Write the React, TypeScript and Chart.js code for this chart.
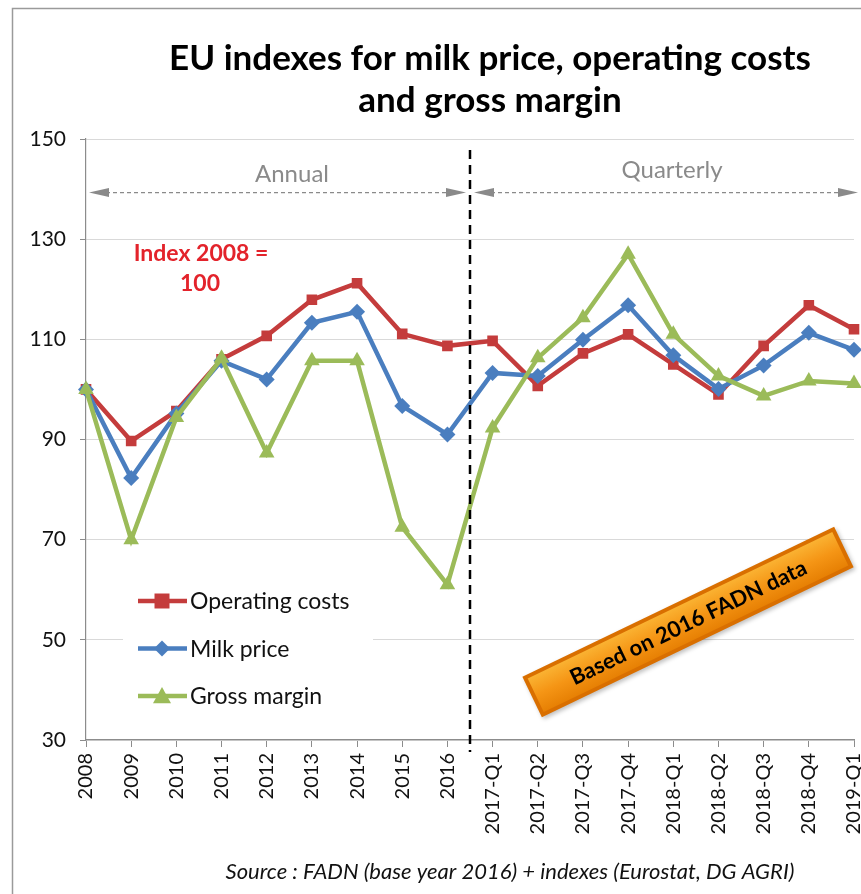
import React, { useEffect, useRef } from "react";
import { Chart, registerables } from "chart.js";

Chart.register(...registerables);

const categories = [
  "2008", "2009", "2010", "2011", "2012", "2013", "2014", "2015", "2016",
  "2017-Q1", "2017-Q2", "2017-Q3", "2017-Q4",
  "2018-Q1", "2018-Q2", "2018-Q3", "2018-Q4", "2019-Q1",
];
const operatingCosts = [100, 89.7, 95.7, 106, 110.7, 117.9, 121.2, 111.1, 108.7, 109.7, 100.7, 107.2, 111, 105, 99, 108.7, 116.8, 112];
const milkPrice = [100, 82.3, 95.2, 105.7, 102, 113.3, 115.5, 96.7, 91, 103.3, 102.7, 109.9, 116.8, 106.8, 100.1, 104.8, 111.3, 107.9];
const grossMargin = [100, 70, 94.4, 106.2, 87.3, 105.7, 105.7, 72.5, 61, 92.3, 106.3, 114.3, 127, 111, 102.7, 98.7, 101.7, 101.2];
const seriesNames = ["Operating costs", "Milk price", "Gross margin"];
const yMin = 30;
const yMax = 150;
const yStep = 20;
const titleLines = ["EU indexes for milk price, operating costs", "and gross margin"];
const sourceText = "Source : FADN (base year 2016) + indexes (Eurostat, DG AGRI)";
const periodLabels = ["Annual", "Quarterly"];
const indexLabel = ["Index 2008 =", "100"];
const boxText = "Based on 2016 FADN data";

const RED = "#c43c3c";
const BLUE = "#4a7ebf";
const GREEN = "#9bbb59";
const FONT = "Lato, 'Open Sans', sans-serif";

function drawMarker(ctx: CanvasRenderingContext2D, style: string, x: number, y: number, r: number, color: string) {
  ctx.save();
  ctx.fillStyle = color;
  ctx.beginPath();
  if (style === "rect") {
    ctx.rect(x - r, y - r, 2 * r, 2 * r);
  } else if (style === "rectRot") {
    ctx.moveTo(x, y - r);
    ctx.lineTo(x + r, y);
    ctx.lineTo(x, y + r);
    ctx.lineTo(x - r, y);
    ctx.closePath();
  } else {
    ctx.moveTo(x, y - r);
    ctx.lineTo(x + r, y + r * 0.8);
    ctx.lineTo(x - r, y + r * 0.8);
    ctx.closePath();
  }
  ctx.fill();
  ctx.restore();
}

function arrowHead(ctx: CanvasRenderingContext2D, x: number, y: number, dir: number) {
  ctx.beginPath();
  ctx.moveTo(x, y);
  ctx.lineTo(x - dir * 20, y - 4.5);
  ctx.lineTo(x - dir * 20, y + 4.5);
  ctx.closePath();
  ctx.fill();
}

const annotations = {
  id: "annotations",
  afterDatasetsDraw(chart: any) {
    const ctx: CanvasRenderingContext2D = chart.ctx;
    const xs = chart.scales.x;
    const ys = chart.scales.y;
    const area = chart.chartArea;
    const splitX = (xs.getPixelForValue(8) + xs.getPixelForValue(9)) / 2;

    // vertical dashed separator
    ctx.save();
    ctx.strokeStyle = "#000";
    ctx.lineWidth = 2.5;
    ctx.setLineDash([9, 6]);
    ctx.beginPath();
    ctx.moveTo(splitX, area.top + 11);
    ctx.lineTo(splitX, area.bottom + 12);
    ctx.stroke();
    ctx.restore();

    // period arrows
    const ay = ys.getPixelForValue(139.3);
    ctx.save();
    ctx.strokeStyle = "#8a8a8a";
    ctx.fillStyle = "#8a8a8a";
    ctx.lineWidth = 1.2;
    ctx.setLineDash([4, 3]);
    const segs = [
      [area.left + 3, splitX - 4],
      [splitX + 4, area.right + 4],
    ];
    segs.forEach(([a, b]) => {
      ctx.beginPath();
      ctx.moveTo(a + 10, ay);
      ctx.lineTo(b - 10, ay);
      ctx.stroke();
    });
    ctx.setLineDash([]);
    segs.forEach(([a, b]) => {
      arrowHead(ctx, a, ay, -1);
      arrowHead(ctx, b, ay, 1);
    });
    ctx.font = `24px ${FONT}`;
    ctx.textAlign = "center";
    ctx.textBaseline = "middle";
    ctx.fillStyle = "#8a8a8a";
    ctx.fillText(periodLabels[0], 292, 174);
    ctx.fillText(periodLabels[1], 672, 170);
    ctx.restore();

    // index label
    ctx.save();
    ctx.font = `bold 23px ${FONT}`;
    ctx.fillStyle = "#e3232b";
    ctx.textAlign = "center";
    ctx.textBaseline = "middle";
    ctx.fillText(indexLabel[0], 201, 254);
    ctx.fillText(indexLabel[1], 200, 284);
    ctx.restore();

    // legend
    ctx.save();
    ctx.fillStyle = "#fff";
    ctx.fillRect(123, 580, 250, 135);
    const colors = [RED, BLUE, GREEN];
    const styles = ["rect", "rectRot", "triangle"];
    const radii = [7.5, 8, 9];
    seriesNames.forEach((name, i) => {
      const y = 601 + i * 47.5;
      ctx.strokeStyle = colors[i];
      ctx.lineWidth = 4.5;
      ctx.beginPath();
      ctx.moveTo(138, y);
      ctx.lineTo(187, y);
      ctx.stroke();
      drawMarker(ctx, styles[i], 162, y, radii[i], colors[i]);
      ctx.fillStyle = "#111";
      ctx.font = `23px ${FONT}`;
      ctx.textAlign = "left";
      ctx.textBaseline = "middle";
      ctx.fillText(name, 190, y + 1);
    });
    ctx.restore();

    // orange box
    ctx.save();
    ctx.translate(688, 622);
    ctx.rotate(-25.7 * Math.PI / 180);
    const w = 346;
    const h = 45;
    ctx.shadowColor = "rgba(0,0,0,0.25)";
    ctx.shadowBlur = 4;
    ctx.shadowOffsetX = 2;
    ctx.shadowOffsetY = 2;
    ctx.fillStyle = "#d96f00";
    ctx.fillRect(-w / 2, -h / 2, w, h);
    ctx.shadowColor = "transparent";
    const g = ctx.createLinearGradient(0, -h / 2, 0, h / 2);
    g.addColorStop(0, "#fbb838");
    g.addColorStop(0.5, "#f59515");
    g.addColorStop(1, "#e47c00");
    ctx.fillStyle = g;
    ctx.fillRect(-w / 2 + 4, -h / 2 + 4, w - 8, h - 8);
    ctx.fillStyle = "#000";
    ctx.font = `bold 22px ${FONT}`;
    ctx.textAlign = "center";
    ctx.textBaseline = "middle";
    ctx.fillText(boxText, 0, 1);
    ctx.restore();
  },
  afterDraw(chart: any) {
    const ctx: CanvasRenderingContext2D = chart.ctx;
    ctx.save();
    // frame
    ctx.strokeStyle = "#9a9a9a";
    ctx.lineWidth = 1.5;
    ctx.beginPath();
    ctx.moveTo(12.5, 900);
    ctx.lineTo(12.5, 8.5);
    ctx.lineTo(900, 8.5);
    ctx.stroke();
    // title
    ctx.fillStyle = "#000";
    ctx.font = `bold 35px ${FONT}`;
    ctx.textAlign = "center";
    ctx.textBaseline = "middle";
    ctx.fillText(titleLines[0], 490, 59);
    ctx.fillText(titleLines[1], 490, 101);
    // source
    ctx.font = `italic 22px ${FONT}`;
    ctx.fillStyle = "#111";
    ctx.fillText(sourceText, 510, 872);
    ctx.restore();
  },
};

export default function App() {
  const ref = useRef<HTMLCanvasElement | null>(null);
  useEffect(() => {
    if (!ref.current) return;
    const chart = new Chart(ref.current, {
      type: "line",
      data: {
        labels: categories,
        datasets: [
          {
            label: seriesNames[0],
            data: operatingCosts,
            borderColor: RED,
            backgroundColor: RED,
            borderWidth: 4.5,
            pointStyle: "rect",
            pointRadius: 7.5,
            pointBorderWidth: 0,
            tension: 0,
            order: 3,
          },
          {
            label: seriesNames[1],
            data: milkPrice,
            borderColor: BLUE,
            backgroundColor: BLUE,
            borderWidth: 4.5,
            pointStyle: "rectRot",
            pointRadius: 8,
            pointBorderWidth: 0,
            tension: 0,
            order: 2,
          },
          {
            label: seriesNames[2],
            data: grossMargin,
            borderColor: GREEN,
            backgroundColor: GREEN,
            borderWidth: 4.5,
            pointStyle: "triangle",
            pointRadius: 9,
            pointBorderWidth: 0,
            tension: 0,
            order: 1,
          },
        ],
      },
      options: {
        animation: false,
        responsive: false,
        maintainAspectRatio: false,
        devicePixelRatio: 1,
        layout: { padding: { top: 139, right: 46, bottom: 0, left: 0 } },
        plugins: {
          legend: { display: false },
          title: { display: false },
          tooltip: { enabled: false },
        },
        scales: {
          x: {
            offset: false,
            grid: {
              drawOnChartArea: false,
              tickLength: 7,
              color: "#8c8c8c",
              tickColor: "#8c8c8c",
            },
            border: { color: "#8c8c8c", width: 1.2 },
            ticks: {
              autoSkip: false,
              minRotation: 90,
              maxRotation: 90,
              color: "#111",
              font: { family: FONT, size: 20 },
              padding: 6,
            },
            afterFit: (s: any) => { s.height = 154; },
          },
          y: {
            min: yMin,
            max: yMax,
            ticks: {
              stepSize: yStep,
              color: "#111",
              font: { family: FONT, size: 21 },
              padding: 14,
            },
            grid: {
              color: "#d9d9d9",
              tickColor: "#8c8c8c",
              tickLength: 6,
              lineWidth: 1,
            },
            border: { color: "#8c8c8c", width: 1.2 },
            afterFit: (s: any) => { s.width = 86; },
          },
        },
      },
      plugins: [annotations],
    });
    return () => chart.destroy();
  }, []);
  return (
    <div style={{ position: "absolute", left: 0, top: 0, width: 861, height: 894, overflow: "hidden", background: "#fff" }}>
      <canvas ref={ref} width={900} height={894} style={{ display: "block", width: 900, height: 894 }} />
    </div>
  );
}
